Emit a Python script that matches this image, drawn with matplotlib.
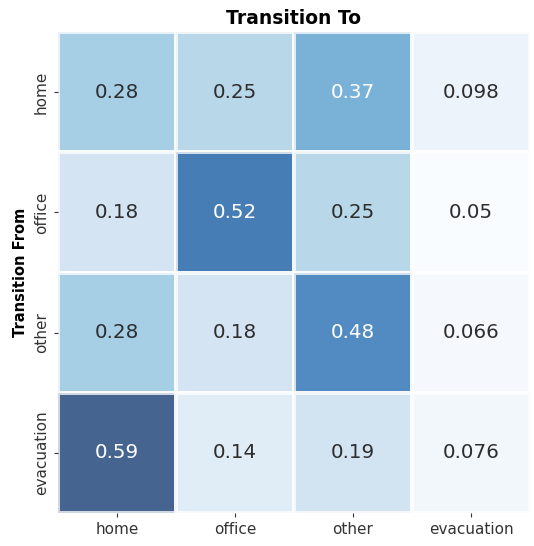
import matplotlib
matplotlib.use("Agg")
import matplotlib.pyplot as plt
import numpy as np
import seaborn as sns

states = ["home", "office", "other", "evacuation"]
probs = np.array([
    [0.28, 0.25, 0.37, 0.098],
    [0.18, 0.52, 0.25, 0.05],
    [0.28, 0.18, 0.48, 0.066],
    [0.59, 0.14, 0.19, 0.076],
])

fig = plt.figure(figsize=(5.34, 5.46), dpi=100)
ax = fig.add_axes([58 / 534, 1 - 513 / 546, 472 / 534, 481 / 546])
sns.heatmap(probs, annot=True, cmap="Blues", alpha=0.75, cbar=False,
            linewidths=1.5, linecolor="white",
            xticklabels=states, yticklabels=states,
            annot_kws={"fontsize": 14.3}, ax=ax)
for t in ax.texts:
    if t.get_color() != "w":
        t.set_color("#2e2e2e")
ax.set_title("Transition To", fontsize=13.5, fontweight="bold", pad=6)
ax.set_ylabel("Transition From", fontsize=10.5, fontweight="bold")
ax.tick_params(axis="both", labelsize=11, colors="#333333", length=3)
plt.setp(ax.get_yticklabels(), rotation=90, va="center")
plt.setp(ax.get_xticklabels(), rotation=0)
fig.savefig("out.png", dpi=100)
